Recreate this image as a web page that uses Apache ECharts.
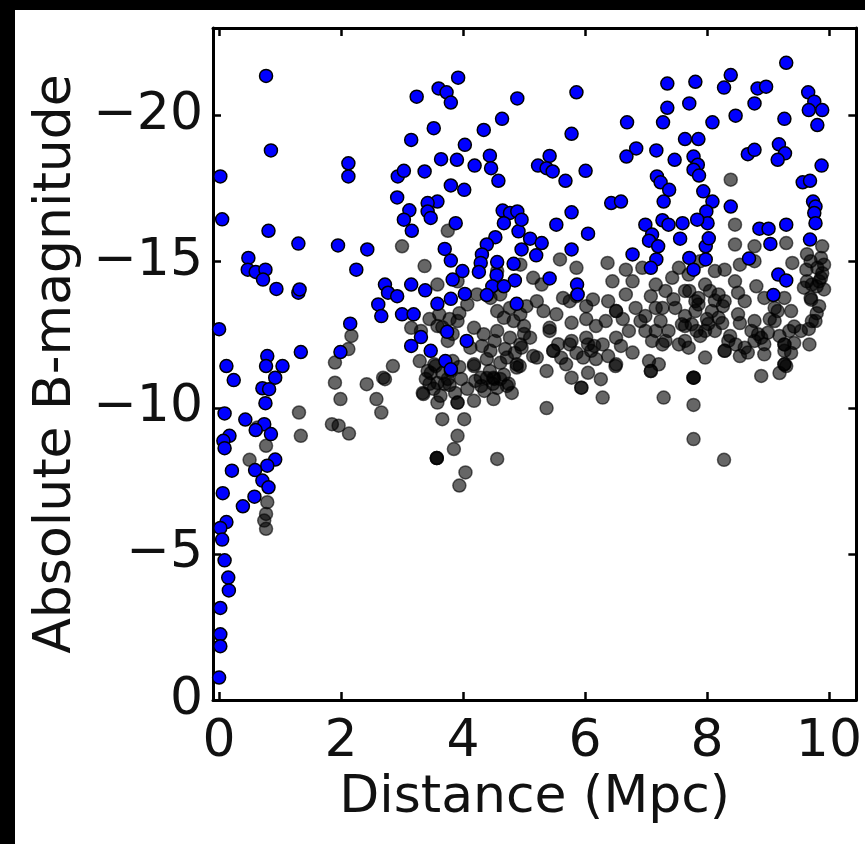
<!DOCTYPE html>
<html>
<head>
<meta charset="utf-8">
<script src="https://cdn.jsdelivr.net/npm/echarts@6/dist/echarts.min.js"></script>
<style>
html,body{margin:0;padding:0;background:#fff;}
#chart{width:865px;height:844px;}
</style>
</head>
<body>
<div id="chart"></div>
<script>
// Tick labels
const xTicks = [0, 2, 4, 6, 8, 10];
const yTicks = [-20, -15, -10, -5, 0];

// Blue galaxies: distance (Mpc) and absolute B magnitude
const blueDistance = [
0.77,3.24,3.60,3.73,3.80,3.92,4.89,4.64,4.34,3.52,3.15,4.03,0.85,2.12,2.12,0.02,2.93,3.03,3.37,3.64,
3.90,4.19,4.44,4.46,4.58,3.80,4.02,2.92,3.58,3.42,3.42,3.47,3.12,3.03,3.16,3.88,0.05,0.81,1.30,1.95,
2.43,2.25,0.48,0.47,0.60,0.76,0.72,0.94,1.30,1.32,2.72,2.77,2.92,2.61,2.66,3.00,3.19,3.15,3.38,3.70,
3.80,3.99,3.83,4.03,3.58,3.80,4.65,4.77,4.89,4.67,4.91,4.53,4.39,4.31,4.96,4.29,4.26,4.56,4.83,4.55,
4.85,4.48,4.67,4.39,4.88,0.00,2.15,3.31,3.74,4.06,3.15,3.47,0.79,1.34,1.99,3.71,3.80,
9.30,7.35,7.81,8.39,8.28,8.83,8.97,9.66,9.76,9.89,9.67,9.81,8.78,8.47,9.27,8.09,7.71,7.35,7.28,6.69,
5.86,5.78,7.64,7.86,6.84,6.68,7.17,7.47,7.78,7.85,7.78,7.87,8.67,8.78,9.18,9.28,9.16,9.88,9.57,9.69,
5.42,5.23,5.37,5.47,5.68,6.01,7.18,7.24,7.38,7.29,7.94,8.09,7.99,8.01,7.84,6.43,6.59,8.39,9.74,9.78,
9.76,9.78,9.69,9.30,8.86,9.01,9.04,4.96,5.53,5.78,6.05,5.10,5.29,5.20,5.78,6.99,7.27,7.37,7.60,7.10,
7.05,7.20,7.56,7.98,6.78,7.17,7.08,7.71,7.78,7.98,8.69,5.42,5.87,5.88,9.17,9.30,9.09,8.03,
0.12,0.24,0.77,1.04,0.92,0.71,0.82,0.76,0.09,0.43,0.74,0.60,0.85,0.17,0.07,0.09,0.92,0.79,0.59,0.21,
0.71,0.81,0.06,0.58,0.39,0.12,0.02,0.05,0.09,0.15,0.16,0.02,0.02,0.02,0.00
];
const blueMagnitude = [
-21.36,-20.65,-20.93,-20.80,-20.45,-21.30,-20.59,-19.89,-19.51,-19.57,-19.17,-19.00,-18.81,-18.37,-17.92,-17.92,-17.92,-18.11,-18.09,-18.51,
-18.49,-18.29,-18.63,-18.20,-17.77,-17.61,-17.46,-17.20,-17.06,-17.01,-16.72,-16.50,-16.76,-16.44,-16.06,-16.32,-16.45,-16.06,-15.62,-15.56,
-15.42,-14.73,-15.13,-14.73,-14.65,-14.73,-14.39,-14.07,-13.94,-14.05,-14.22,-13.94,-13.82,-13.54,-13.14,-13.20,-13.20,-14.22,-14.02,-15.44,
-15.04,-14.68,-14.39,-13.90,-13.56,-13.73,-16.75,-16.67,-16.72,-16.32,-16.04,-15.84,-15.59,-15.25,-15.42,-14.96,-14.65,-14.99,-14.93,-14.54,
-14.36,-14.16,-14.16,-13.86,-13.56,-12.69,-12.88,-12.42,-12.60,-12.29,-12.12,-11.95,-11.77,-11.91,-11.91,-11.60,-11.32,
-21.81,-21.10,-21.16,-21.39,-20.96,-20.93,-20.99,-20.80,-20.48,-20.19,-20.19,-19.68,-20.42,-20.00,-19.89,-19.77,-20.42,-20.27,-19.77,-19.77,
-20.80,-19.38,-19.20,-19.20,-18.88,-18.60,-18.81,-18.49,-18.60,-18.32,-18.15,-17.95,-18.68,-18.83,-19.02,-18.71,-18.49,-18.29,-17.72,-17.77,
-18.62,-18.29,-18.20,-18.09,-17.77,-18.11,-17.92,-17.72,-17.46,-17.06,-17.41,-17.06,-16.72,-16.32,-16.44,-17.01,-17.06,-16.89,-17.06,-16.89,
-16.67,-16.32,-15.76,-16.27,-16.13,-16.13,-15.61,-16.44,-16.27,-16.69,-15.96,-15.79,-15.64,-15.22,-15.42,-16.27,-16.42,-16.27,-16.32,-15.93,
-15.72,-15.53,-15.79,-15.53,-15.25,-15.08,-14.79,-15.13,-14.73,-15.08,-15.11,-14.43,-14.22,-13.88,-14.56,-14.36,-13.86,-15.80,
-11.43,-10.95,-11.43,-11.43,-11.03,-10.67,-10.64,-10.16,-9.81,-9.60,-9.44,-9.24,-9.10,-9.04,-8.87,-8.62,-8.23,-8.02,-7.87,-7.85,
-7.51,-7.28,-7.08,-6.96,-6.63,-6.09,-5.89,-5.49,-4.78,-4.19,-3.75,-3.15,-2.25,-1.84,-0.77
];

// Grey (semi-transparent black) galaxies
const greyDistance = [
3.75,3.00,3.37,2.17,3.58,3.61,3.15,3.31,3.91,3.75,4.18,4.34,4.56,4.77,4.94,4.12,4.45,4.72,4.88,4.18,
3.53,3.42,3.80,2.85,2.69,4.56,4.67,4.83,4.61,4.77,4.45,4.56,4.29,4.50,3.91,4.07,4.23,1.90,1.90,1.99,
1.31,1.34,1.85,1.96,2.13,2.42,2.72,2.58,2.66,3.35,3.58,3.66,4.02,3.91,3.91,3.85,3.57,3.57,3.57,4.04,
3.94,4.56,4.18,4.18,4.50,4.39,4.61,4.72,4.49,3.58,3.70,3.47,4.88,2.12,0.77,0.50,0.79,0.77,0.77,0.74,
0.63,5.59,5.86,6.37,6.67,6.45,5.64,5.75,6.13,6.51,6.67,6.83,6.91,5.78,5.21,5.32,4.94,5.42,5.10,4.96,
5.21,5.48,5.75,6.02,6.10,6.29,6.51,6.72,6.78,6.51,5.97,5.37,5.69,7.10,7.05,7.21,7.27,7.32,7.16,7.43,
7.54,7.48,7.59,7.37,7.54,6.94,6.78,4.94,5.15,8.46,8.78,9.30,9.40,8.29,8.54,7.97,8.19,8.51,8.81,8.94,
9.11,9.27,9.38,9.70,9.87,9.87,9.70,9.81,9.59,9.54,9.68,9.78,9.27,9.27,8.89,8.78,8.51,8.29,8.08,7.86,
7.75,7.97,8.19,8.35,8.62,8.94,7.97,8.29,7.78,7.78,7.78,8.89,7.70,8.39,8.46,5.37,6.29,6.26,5.94,5.78,
6.05,6.50,7.08,7.29,7.78,7.78,8.28,9.30,8.47,8.67,4.93,5.15,6.05,7.16,7.27,7.70,7.83,7.86,8.13,8.02,
8.84,9.00,9.16,5.42,9.64,9.89,9.64,9.80,9.71,9.80,9.67,9.43,9.27,
9.27,9.27,5.94,7.08,3.91,5.48,6.51,8.29,
3.29,3.39,3.52,3.66,3.78,3.87,3.97,3.63,3.34,3.83,4.20,4.35,4.56,4.67,4.44,4.80,3.45,3.66,3.83,3.94,
4.31,4.52,4.69,4.85,5.00,4.61,4.39,6.38,6.62,5.86,6.02,5.56,5.86,6.18,5.61,7.08,7.24,7.45,7.64,7.64,
5.04,5.00,7.71,7.81,7.89,8.05,8.13,8.25,7.64,9.19,9.38,9.19,9.43,9.92,9.72,9.92,9.63,8.73,9.03,8.94,
8.13,7.89,8.46,8.62,8.78,6.34,6.59,6.99,6.18,5.29,5.53,6.02,
3.55,3.75,3.94,4.07,3.45,4.30,4.51,4.75,3.58,3.78,7.81,8.00,8.26,8.54,8.78,9.11,9.35,8.54,8.38,6.99,
7.32,7.64,7.16,5.78,6.15,6.38,9.84,9.84,9.72,9.89
];
const greyMagnitude = [
-16.06,-15.53,-14.85,-12.46,-14.22,-13.20,-12.74,-12.63,-12.97,-12.29,-12.74,-12.52,-12.63,-12.40,-12.17,-12.06,-11.95,-11.72,-11.49,-11.49,
-11.49,-11.26,-11.26,-11.43,-11.03,-13.31,-13.08,-12.97,-13.88,-13.42,-13.76,-14.68,-11.03,-11.03,-14.33,-13.54,-13.88,-11.55,-10.86,-10.30,
-9.84,-9.04,-9.44,-9.39,-9.12,-10.81,-10.98,-10.30,-9.84,-10.47,-10.18,-9.61,-9.61,-10.18,-9.04,-8.59,-8.28,-8.28,-8.28,-7.79,
-7.34,-8.25,-11.43,-10.24,-10.30,-11.02,-10.99,-10.75,-10.82,-10.85,-10.82,-11.19,-11.38,-12.01,-8.70,-8.22,-6.77,-6.37,-5.86,-6.14,
-9.33,-15.08,-14.79,-14.96,-14.73,-14.33,-13.76,-13.65,-13.71,-13.31,-13.88,-13.42,-12.97,-12.91,-13.65,-13.31,-13.20,-12.63,-12.40,-12.06,
-11.72,-11.95,-12.17,-12.40,-11.95,-12.17,-12.40,-12.63,-11.89,-11.49,-11.72,-11.26,-11.49,-12.29,-11.60,-11.49,-13.42,-14.00,-14.22,-14.45,
-14.79,-13.42,-12.86,-12.63,-12.17,-14.79,-14.33,-14.90,-14.45,-15.59,-15.53,-15.64,-14.96,-14.73,-14.90,-14.22,-13.88,-13.94,-14.16,-13.76,
-13.42,-13.76,-13.31,-13.76,-14.45,-15.13,-15.02,-14.79,-14.11,-12.63,-12.17,-12.97,-12.17,-11.49,-12.40,-12.97,-13.20,-13.65,-13.31,-13.76,
-12.86,-12.63,-13.08,-12.29,-12.06,-11.83,-11.72,-11.95,-11.03,-11.03,-11.03,-11.09,-14.56,-17.81,-16.27,-9.99,-10.35,-10.98,-10.69,-11.03,
-11.20,-11.43,-11.26,-10.35,-10.10,-8.93,-8.22,-11.43,-12.17,-11.89,-11.43,-11.77,-12.17,-13.42,-12.17,-12.06,-12.63,-13.54,-13.67,-12.87,
-12.52,-12.57,-13.31,-12.74,-15.26,-14.61,-14.33,-14.16,-13.70,-13.24,-12.70,-12.78,-11.95,
-12.17,-11.49,-10.69,-11.26,-10.18,-11.95,-13.31,-11.95,
-11.60,-10.99,-10.65,-11.19,-10.78,-10.51,-10.99,-10.41,-10.51,-11.60,-10.92,-10.58,-10.68,-11.13,-11.26,-10.51,-13.04,-12.76,-12.53,-13.24,
-12.12,-12.29,-12.01,-11.88,-12.53,-11.54,-11.67,-13.65,-13.04,-13.82,-13.48,-12.18,-11.88,-11.67,-11.71,-13.82,-12.97,-13.72,-13.14,-14.00,
-13.48,-12.80,-14.00,-13.31,-12.46,-14.00,-12.63,-12.90,-12.29,-12.46,-11.88,-11.19,-12.22,-14.90,-14.22,-14.05,-14.73,-12.63,-13.04,-12.18,
-14.68,-15.02,-14.33,-13.65,-15.02,-12.97,-12.12,-12.63,-12.80,-14.22,-13.20,-13.04,
-11.43,-10.99,-11.40,-10.65,-10.82,-10.75,-10.99,-10.82,-12.80,-13.04,-13.65,-13.04,-13.48,-12.90,-12.29,-12.97,-12.63,-11.77,-12.46,-13.14,
-12.29,-12.80,-12.63,-12.29,-12.12,-11.77,-14.33,-13.48,-12.97,-15.53
];

const axisFont = { fontFamily: 'DejaVu Sans', fontSize: 52, color: '#111' };
const fmtY = v => (v < 0 ? '\u2212' + Math.abs(v) : String(v));

const chart = echarts.init(document.getElementById('chart'), null, { renderer: 'canvas' });
const lineStyle = { color: '#000', width: 3 };
const tickStyle = { color: '#000', width: 2.5 };

chart.setOption({
  animation: false,
  backgroundColor: '#fff',
  graphic: [
    { type: 'rect', shape: { x: 0, y: 0, width: 865, height: 10 }, style: { fill: '#000' }, z: 100 },
    { type: 'rect', shape: { x: 0, y: 0, width: 15, height: 844 }, style: { fill: '#000' }, z: 100 }
  ],
  grid: { left: 213, top: 28, width: 650, height: 672, containLabel: false },
  xAxis: [
    {
      type: 'value', min: -0.1, max: 10.45, position: 'bottom',
      name: 'Distance (Mpc)', nameLocation: 'middle', nameGap: 71,
      nameTextStyle: Object.assign({}, axisFont),
      axisLine: { show: true, onZero: false, lineStyle: lineStyle },
      axisTick: { show: true, inside: true, length: 8, customValues: xTicks, lineStyle: tickStyle },
      axisLabel: Object.assign({ show: true, margin: 16, customValues: xTicks, formatter: v => String(v) }, axisFont),
      splitLine: { show: false }
    },
    {
      type: 'value', min: -0.1, max: 10.45, position: 'top',
      axisLine: { show: true, onZero: false, lineStyle: lineStyle },
      axisTick: { show: true, inside: true, length: 8, customValues: xTicks, lineStyle: tickStyle },
      axisLabel: { show: false },
      splitLine: { show: false }
    }
  ],
  yAxis: [
    {
      type: 'value', min: -23, max: 0, inverse: true, position: 'left',
      name: 'Absolute B-magnitude', nameLocation: 'middle', nameGap: 120, nameRotate: 90,
      nameTextStyle: Object.assign({}, axisFont),
      axisLine: { show: true, onZero: false, lineStyle: lineStyle },
      axisTick: { show: true, inside: true, length: 8, customValues: yTicks, lineStyle: tickStyle },
      axisLabel: Object.assign({ show: true, margin: 10, customValues: yTicks, formatter: fmtY }, axisFont),
      splitLine: { show: false }
    },
    {
      type: 'value', min: -23, max: 0, inverse: true, position: 'right',
      axisLine: { show: true, onZero: false, lineStyle: lineStyle },
      axisTick: { show: true, inside: true, length: 8, customValues: yTicks, lineStyle: tickStyle },
      axisLabel: { show: false },
      splitLine: { show: false }
    }
  ],
  series: [
    {
      type: 'scatter', xAxisIndex: 0, yAxisIndex: 0,
      data: greyDistance.map((d, i) => [d, greyMagnitude[i]]),
      symbol: 'circle', symbolSize: 13,
      itemStyle: { color: '#000', borderColor: '#000', borderWidth: 1.5, opacity: 0.6 },
      emphasis: { disabled: true }, silent: true, z: 2
    },
    {
      type: 'scatter', xAxisIndex: 0, yAxisIndex: 0,
      data: blueDistance.map((d, i) => [d, blueMagnitude[i]]),
      symbol: 'circle', symbolSize: 13,
      itemStyle: { color: '#0000ff', borderColor: '#000', borderWidth: 1.5, opacity: 1 },
      emphasis: { disabled: true }, silent: true, z: 3
    }
  ]
});
</script>
</body>
</html>
